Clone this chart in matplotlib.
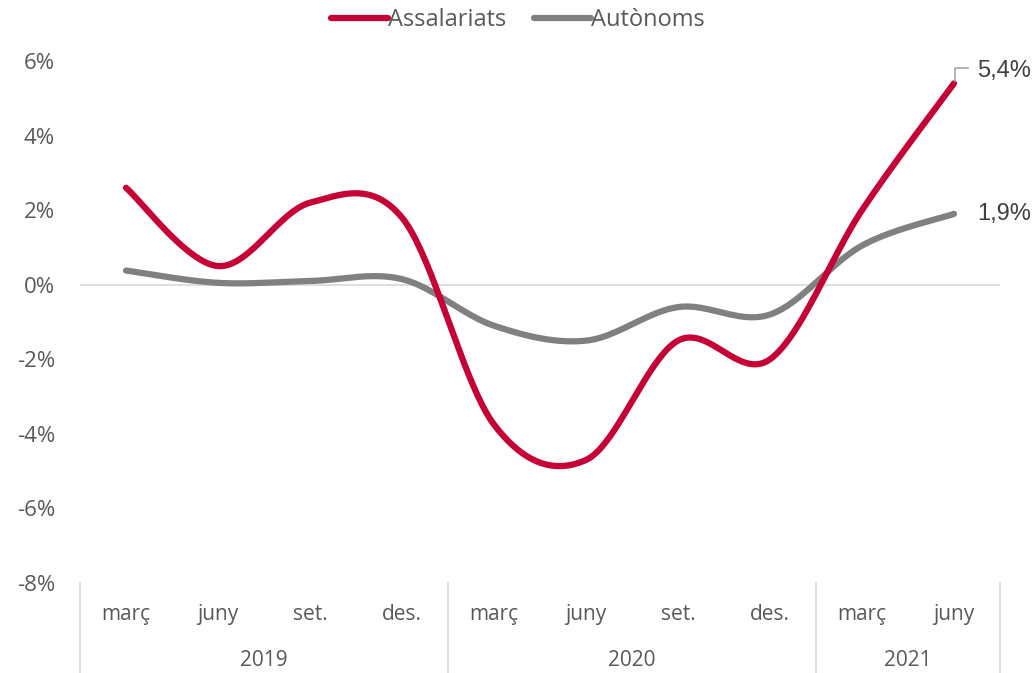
import numpy as np
import matplotlib
matplotlib.use("Agg")
import matplotlib.pyplot as plt
from matplotlib.lines import Line2D
from matplotlib.transforms import offset_copy

months = ["març", "juny", "set.", "des.", "març", "juny", "set.", "des.", "març", "juny"]
years = ["2019", "2020", "2021"]
year_counts = [4, 4, 2]
assalariats = [2.6, 0.5, 2.2, 1.8, -3.75, -4.7, -1.5, -2.0, 2.0, 5.4]
autonoms = [0.38, 0.05, 0.1, 0.15, -1.1, -1.5, -0.6, -0.8, 1.05, 1.9]
yticks = [-8, -6, -4, -2, 0, 2, 4, 6]

RED = "#C60034"
GRAY = "#808080"
TXT = "#595959"
FONT = "Open Sans"


def smooth(xs, ys, n=40):
    xs = np.asarray(xs, float); ys = np.asarray(ys, float)
    P = np.column_stack([xs, ys])
    out = []
    m = len(P)
    for i in range(m - 1):
        p0 = P[i - 1] if i > 0 else P[i]
        p1 = P[i]; p2 = P[i + 1]
        p3 = P[i + 2] if i + 2 < m else P[i + 1]
        c1 = p1 + (p2 - p0) / 6.0
        c2 = p2 - (p3 - p1) / 6.0
        t = np.linspace(0, 1, n)[:, None]
        seg = (1 - t) ** 3 * p1 + 3 * (1 - t) ** 2 * t * c1 + 3 * (1 - t) * t ** 2 * c2 + t ** 3 * p2
        out.append(seg if i == 0 else seg[1:])
    out = np.vstack(out)
    return out[:, 0], out[:, 1]


fig = plt.figure(figsize=(10.36, 6.73), dpi=100)
ax = fig.add_axes([80 / 1036, 1 - 583 / 673, 920 / 1036, (583 - 61) / 673])
x = np.arange(len(months))
ax.set_xlim(-0.5, len(months) - 0.5)
ax.set_ylim(-8, 6)

ax.axhline(0, color="#D9D9D9", lw=1.2, zorder=1)

sx, sy = smooth(x, autonoms)
ax.plot(sx, sy, color=GRAY, lw=4.5, solid_capstyle="round", zorder=3)
sx, sy = smooth(x, assalariats)
ax.plot(sx, sy, color=RED, lw=4.5, solid_capstyle="round", zorder=4)

for s in ax.spines.values():
    s.set_visible(False)
ax.set_xticks([])
ax.set_yticks(yticks)
ax.set_yticklabels([f"{v}%" for v in yticks], fontsize=16, color=TXT, fontfamily=FONT)
ax.tick_params(axis="y", length=0, pad=18)

# data labels
ax.annotate(f"{assalariats[-1]:.1f}%".replace(".", ","), xy=(x[-1], assalariats[-1]),
            xytext=(16.5, 8.8), textcoords="offset points", fontsize=17, color="#404040",
            fontfamily="Liberation Sans", va="center", ha="left")
ax.annotate(f"{autonoms[-1]:.1f}%".replace(".", ","), xy=(x[-1], autonoms[-1]),
            xytext=(17, 0), textcoords="offset points", fontsize=17, color="#404040",
            fontfamily="Liberation Sans", va="center", ha="left")
# leader line for the top label
lead_tr = offset_copy(ax.transData, fig=fig, x=0, y=0, units="points")
px, py = x[-1], assalariats[-1]
tr1 = offset_copy(ax.transData, fig=fig, x=1.0, y=1.5, units="points")
tr2 = offset_copy(ax.transData, fig=fig, x=1.0, y=11.0, units="points")
tr3 = offset_copy(ax.transData, fig=fig, x=10.0, y=11.0, units="points")
p1 = tr1.transform((px, py)); p2 = tr2.transform((px, py)); p3 = tr3.transform((px, py))
ax.add_line(Line2D([p1[0], p2[0], p3[0]], [p1[1], p2[1], p3[1]], transform=None,
                   color="#A6A6A6", lw=1.2, zorder=5))

# category axis
trans = ax.get_xaxis_transform()
for i, m in enumerate(months):
    ax.text(x[i], -0.061, m, transform=trans, ha="center", va="center",
            fontsize=15, color=TXT, fontfamily=FONT)
start = 0
bounds = [-0.5]
for yr, c in zip(years, year_counts):
    ax.text(start + (c - 1) / 2, -0.148, yr, transform=trans, ha="center", va="center",
            fontsize=15, color=TXT, fontfamily=FONT)
    start += c
    bounds.append(start - 0.5)
for b in bounds:
    ax.add_line(Line2D([b, b], [0, -0.173], transform=trans, color="#D9D9D9", lw=1.2,
                       clip_on=False))

handles = [Line2D([], [], color=RED, lw=4.5, solid_capstyle="round"),
           Line2D([], [], color=GRAY, lw=4.5, solid_capstyle="round")]
fig.legend(handles, ["Assalariats", "Autònoms"], loc="center", bbox_to_anchor=(0.5, 1 - 20 / 673),
           ncol=2, frameon=False, prop={"family": FONT, "size": 17}, labelcolor=TXT,
           handlelength=2.4, handletextpad=0.0, columnspacing=1.2)

fig.savefig("out.png", dpi=100)
